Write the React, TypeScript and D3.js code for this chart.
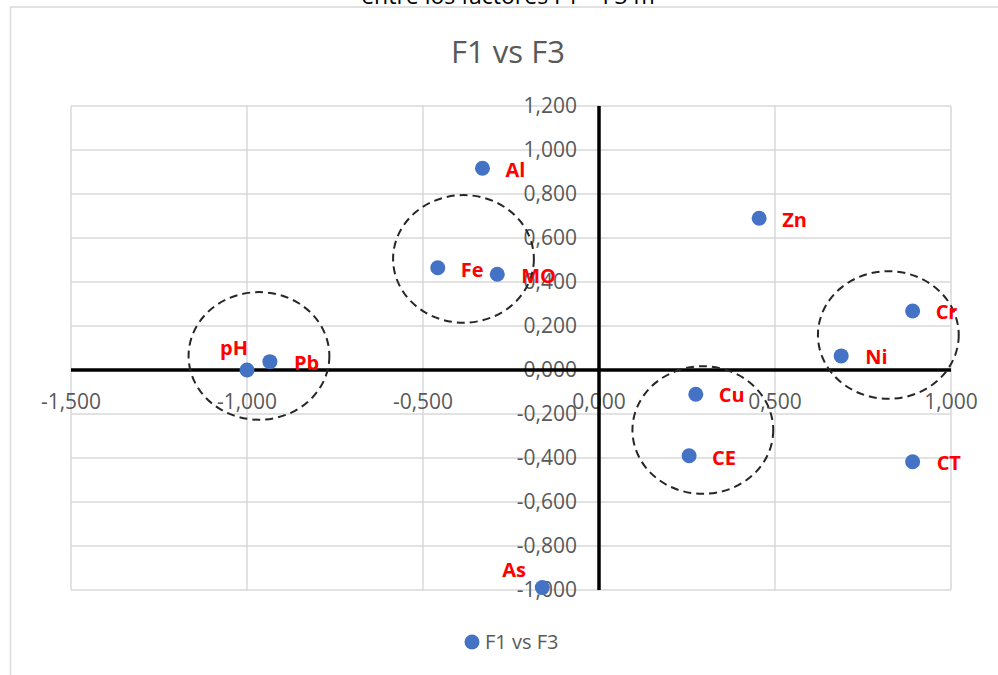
import { formatLocale, scaleLinear } from "d3";

// factor loadings
const labels = ["pH", "Pb", "Al", "Fe", "MO", "Zn", "Cr", "Ni", "Cu", "CE", "As", "CT"];
const f1 = [-1.0, -0.935, -0.331, -0.458, -0.289, 0.455, 0.891, 0.688, 0.275, 0.256, -0.161, 0.891];
const f3 = [0.0, 0.038, 0.917, 0.465, 0.435, 0.69, 0.268, 0.064, -0.11, -0.39, -0.989, -0.417];

// label offsets in px (dx, dy) from each point
const labelOffsets = [
  [-27, -22], [24, 1], [23, 2], [23, 2], [24, 2], [23, 2],
  [23, 1], [24, 1], [23, 1], [23, 2], [-40, -18], [24, 1],
];

// dashed groups: centre (f1, f3) and radii in data units
const groupCx = [-0.966, -0.385, 0.822, 0.295];
const groupCy = [0.064, 0.505, 0.159, -0.273];
const groupRx = [0.2, 0.2, 0.2, 0.2];
const groupRy = [0.29, 0.29, 0.29, 0.29];

const xTicks = [-1.5, -1.0, -0.5, 0.0, 0.5, 1.0];
const yTicks = [-1.0, -0.8, -0.6, -0.4, -0.2, 0.0, 0.2, 0.4, 0.6, 0.8, 1.0, 1.2];

const title = "F1 vs F3";
const seriesName = "F1 vs F3";
const topCaption = "entre los factores F1 – F3 m";

const fmt = formatLocale({
  decimal: ",",
  thousands: ".",
  grouping: [3],
  currency: ["", ""],
  minus: "-",
}).format(".3f");

export default function App() {
  const x = scaleLinear().domain([-1.5, 1.0]).range([71, 951]);
  const y = scaleLinear().domain([-1.0, 1.2]).range([590, 106]);
  const font = "'Open Sans', sans-serif";
  const grey = "#595959";
  const grid = "#d9d9d9";

  return (
    <svg
      width={998}
      height={675}
      style={{ position: "absolute", left: 0, top: 0, background: "#fff" }}
    >
      <text x={508} y={4} textAnchor="middle" fontFamily={font} fontSize={23} fill="#000">
        {topCaption}
      </text>
      <rect x={10.5} y={7} width={1000} height={700} fill="#fff" stroke={grid} strokeWidth={1.5} />

      <text x={508} y={63} textAnchor="middle" fontFamily={font} fontSize={31} fill={grey}>
        {title}
      </text>

      {/* grid */}
      <g stroke={grid} strokeWidth={1.5}>
        {xTicks.map((t) => (
          <line key={"gx" + t} x1={x(t)} x2={x(t)} y1={y(1.2)} y2={y(-1.0)} />
        ))}
        {yTicks.map((t) => (
          <line key={"gy" + t} x1={x(-1.5)} x2={x(1.0)} y1={y(t)} y2={y(t)} />
        ))}
      </g>

      {/* tick labels */}
      <g fontFamily={font} fontSize={21} fill={grey}>
        {yTicks.map((t) => (
          <text key={"ty" + t} x={x(0) - 22} y={y(t)} dy="0.35em" textAnchor="end">
            {fmt(t)}
          </text>
        ))}
        {xTicks.map((t) => (
          <text key={"tx" + t} x={x(t)} y={y(0) + 32} dy="0.35em" textAnchor="middle">
            {fmt(t)}
          </text>
        ))}
      </g>

      {/* axes */}
      <g stroke="#000" strokeWidth={3.5}>
        <line x1={x(-1.5)} x2={x(1.0)} y1={y(0)} y2={y(0)} />
        <line x1={x(0)} x2={x(0)} y1={y(1.2)} y2={y(-1.0)} />
      </g>

      {/* dashed group ellipses */}
      <g fill="none" stroke="#262626" strokeWidth={2} strokeDasharray="8 5">
        {groupCx.map((cx, i) => (
          <ellipse
            key={"e" + i}
            cx={x(cx)}
            cy={y(groupCy[i])}
            rx={x(groupRx[i]) - x(0)}
            ry={y(0) - y(groupRy[i])}
          />
        ))}
      </g>

      {/* points */}
      {labels.map((l, i) => (
        <circle key={"p" + l} cx={x(f1[i])} cy={y(f3[i])} r={7.5} fill="#4472c4" />
      ))}
      <g fontFamily={font} fontSize={20} fontWeight="bold" fill="#ff0000">
        {labels.map((l, i) => (
          <text
            key={"l" + l}
            x={x(f1[i]) + labelOffsets[i][0]}
            y={y(f3[i]) + labelOffsets[i][1]}
            dy="0.35em"
          >
            {l}
          </text>
        ))}
      </g>

      {/* legend */}
      <circle cx={472} cy={642} r={7.5} fill="#4472c4" />
      <text x={485} y={642} dy="0.35em" fontFamily={font} fontSize={20} fill={grey}>
        {seriesName}
      </text>
    </svg>
  );
}
